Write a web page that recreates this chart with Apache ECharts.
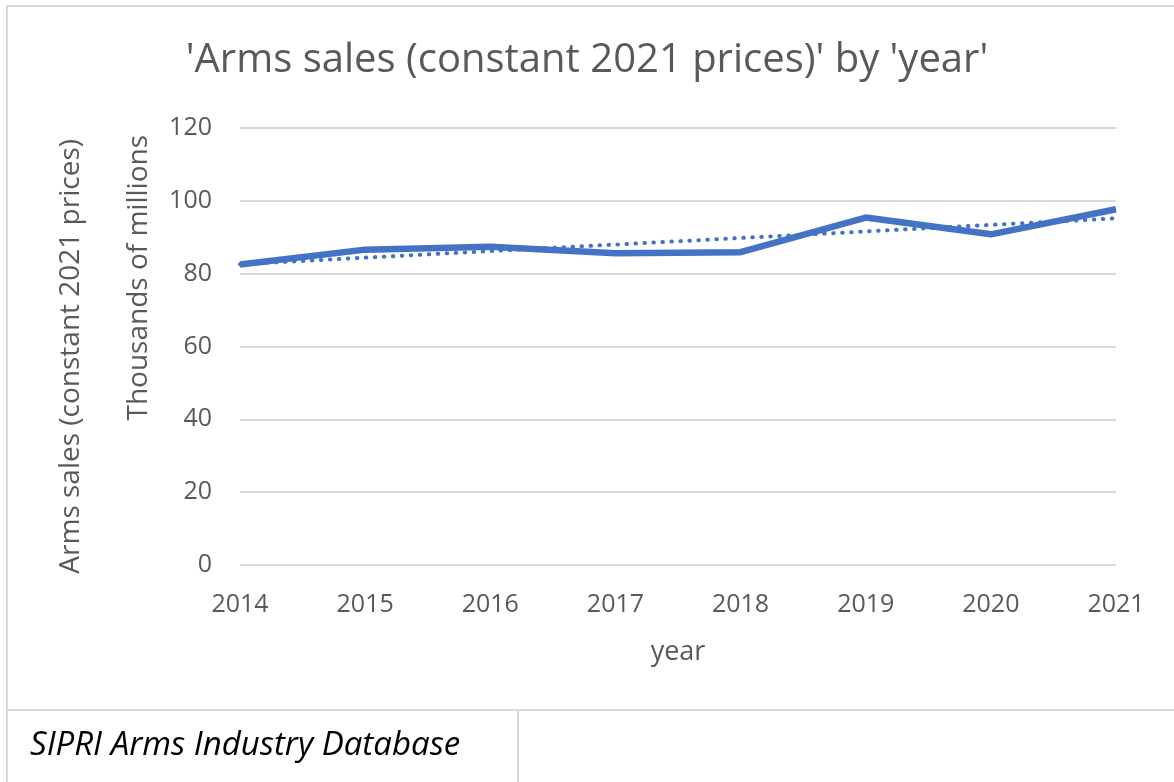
<!DOCTYPE html>
<html>
<head>
<meta charset="utf-8">
<script src="https://cdn.jsdelivr.net/npm/echarts@6/dist/echarts.min.js"></script>
<style>
  html, body { margin: 0; padding: 0; background: #fff; }
  #chart { width: 1174px; height: 782px; }
</style>
</head>
<body>
<div id="chart"></div>
<script>
// 数据
const years = ['2014', '2015', '2016', '2017', '2018', '2019', '2020', '2021']
const armsSales = [82.5, 86.6, 87.4, 85.6, 85.9, 95.4, 90.8, 97.7]
const trendLine = [82.6, 84.4, 86.2, 88.0, 89.8, 91.6, 93.4, 95.2]

const chart = echarts.init(document.getElementById('chart'))

const font = 'Open Sans'
const grey = '#595959'
const borderColor = '#d9d9d9'

const option = {
  animation: false,
  textStyle: { fontFamily: font },
  title: {
    text: "'Arms sales (constant 2021 prices)' by 'year'",
    left: 'center',
    top: 36,
    textStyle: { color: grey, fontSize: 40, fontWeight: 'normal', fontFamily: font }
  },
  grid: { left: 240, right: 58, top: 128, bottom: 217 },
  xAxis: {
    type: 'category',
    data: years,
    boundaryGap: false,
    name: 'year',
    nameLocation: 'middle',
    nameGap: 74,
    nameTextStyle: { color: grey, fontSize: 27 },
    axisLine: { show: false },
    axisTick: { show: false },
    axisLabel: { color: grey, fontSize: 25, margin: 27 }
  },
  yAxis: {
    type: 'value',
    min: 0,
    max: 120,
    interval: 20,
    axisLine: { show: false },
    axisTick: { show: false },
    axisLabel: { color: grey, fontSize: 25, margin: 28 },
    splitLine: { lineStyle: { color: borderColor, width: 2 } }
  },
  series: [
    {
      name: 'Arms sales',
      type: 'line',
      data: armsSales,
      symbol: 'none',
      lineStyle: { color: '#4472c4', width: 6.5 },
      z: 3
    },
    {
      name: 'Trend',
      type: 'line',
      data: trendLine,
      symbol: 'none',
      lineStyle: { color: '#4472c4', width: 4, type: [0.5, 8.5], cap: 'round' },
      z: 2
    }
  ],
  graphic: [
    // 外框
    { type: 'line', shape: { x1: 7, y1: 6, x2: 1174, y2: 6 }, style: { stroke: borderColor, lineWidth: 2 } },
    { type: 'line', shape: { x1: 7, y1: 6, x2: 7, y2: 782 }, style: { stroke: borderColor, lineWidth: 2 } },
    { type: 'line', shape: { x1: 7, y1: 710, x2: 1174, y2: 710 }, style: { stroke: borderColor, lineWidth: 2 } },
    { type: 'line', shape: { x1: 518, y1: 710, x2: 518, y2: 782 }, style: { stroke: borderColor, lineWidth: 2 } },
    // Y轴名称
    {
      type: 'text',
      x: 71,
      y: 139,
      rotation: Math.PI / 2,
      style: {
        text: 'Arms sales (constant 2021 prices)',
        fill: grey,
        font: '28px "Open Sans"',
        textAlign: 'right',
        textVerticalAlign: 'middle'
      }
    },
    {
      type: 'text',
      x: 139,
      y: 135,
      rotation: Math.PI / 2,
      style: {
        text: 'Thousands of millions',
        fill: grey,
        font: '28px "Open Sans"',
        textAlign: 'right',
        textVerticalAlign: 'middle'
      }
    },
    // 数据来源
    {
      type: 'text',
      x: 30,
      y: 746,
      style: {
        text: 'SIPRI Arms Industry Database',
        fill: '#000',
        font: 'italic 33px "Open Sans"',
        textAlign: 'left',
        textVerticalAlign: 'middle'
      }
    }
  ]
}

chart.setOption(option)
</script>
</body>
</html>
